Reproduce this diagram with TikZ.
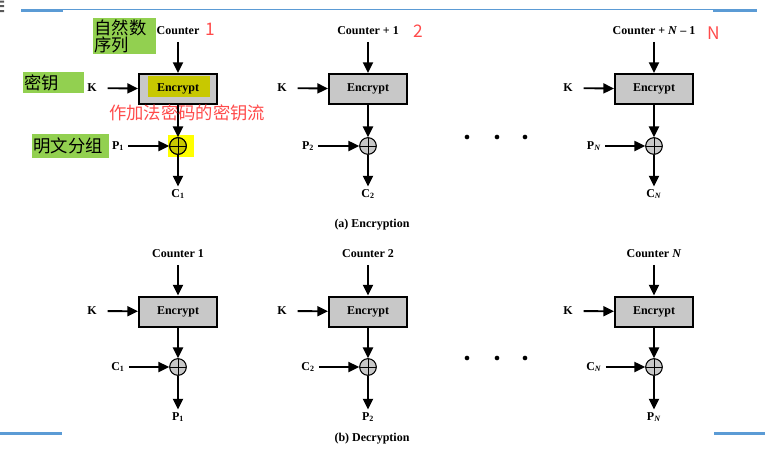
\documentclass[tikz,border=0pt]{standalone}
\usepackage{fontspec}
\setmainfont{Liberation Serif}
\newfontfamily\cjk{Noto Sans CJK SC}
\usetikzlibrary{arrows.meta,calc}
\definecolor{ppblue}{HTML}{5B9BD5}
\definecolor{mkgreen}{HTML}{92D050}
\definecolor{boxgray}{HTML}{C8C8C8}
\definecolor{mkred}{HTML}{FF4B4B}
\definecolor{hlolive}{HTML}{C8C800}
\definecolor{hlyellow}{HTML}{FFFF00}
\begin{document}
\begin{tikzpicture}[x=0.75pt,y=-0.75pt,
  lbl/.style={font=\fontsize{9}{10}\selectfont\bfseries, inner sep=2pt},
  captext/.style={font=\fontsize{9}{10}\selectfont\bfseries, inner sep=1pt},
  encbox/.style={draw, line width=1.5pt, fill=boxgray, minimum width=58.5pt, minimum height=22.5pt, inner sep=0pt, font=\fontsize{9}{10}\selectfont\bfseries},
  xor/.style={circle, draw, line width=0.8pt, fill=boxgray, minimum size=12.5pt, inner sep=0pt,
    path picture={\draw[line width=0.6pt] (path picture bounding box.north) -- (path picture bounding box.south) (path picture bounding box.west) -- (path picture bounding box.east);}},
  arr/.style={-{Triangle[length=8pt,width=7.5pt]}, line width=1.4pt},
  dotmark/.style={circle, fill, inner sep=0pt, minimum size=3.5pt},
  note/.style={fill=mkgreen, inner sep=1pt, anchor=north west, align=left, font=\cjk\fontsize{13}{12.75}\selectfont},
  rednote/.style={text=mkred, inner sep=0pt, font=\cjk\fontsize{13}{13}\selectfont}]
\useasboundingbox (0,0) rectangle (765,451);
% page decorations
\fill[gray!70!black] (0,0.5) rectangle (4,2.5) (0,5) rectangle (4,7) (0,10) rectangle (4,12);
\draw[ppblue, line width=0.75pt] (21,9.5) -- (757,9.5);
\fill[ppblue] (21,9) rectangle (63,12);
\fill[ppblue] (713,9) rectangle (757,12);
\fill[ppblue] (0,432) rectangle (62,435);
\fill[ppblue] (714,432) rectangle (765,435);
% yellow highlight behind first XOR
\fill[hlyellow] (168,135) rectangle (194,157);
% ---------------- (a) Encryption ----------------
\foreach \i/\cx/\ctr/\sub in {1/178/{Counter}/1, 2/368/{Counter + 1}/2, 3/654/{Counter + \textit{N} – 1}/{\textit{N}}}{
  \node[lbl] (ca\i) at (\cx,31) {\ctr};
  \node[encbox] (ea\i) at (\cx,89) {Encrypt};
  \node[lbl] (ka\i) at (\cx-86,88) {K};
  \node[xor] (xa\i) at (\cx,146) {};
  \node[lbl] (pa\i) at (\cx-60,146) {P\textsubscript{\sub}};
  \node[lbl] (oa\i) at (\cx,194) {C\textsubscript{\sub}};
  \draw[arr, shorten <=3pt] (ca\i) -- (ea\i);
  \draw[arr, shorten <=6pt] (ka\i) -- (ea\i);
  \draw[arr] (ea\i) -- (xa\i);
  \draw[arr, shorten <=1pt] (pa\i) -- (xa\i);
  \draw[arr] (xa\i) -- (oa\i);
}
% highlighted first encryption block
\node[encbox, path picture={\fill[hlolive] ($(path picture bounding box.center)+(-30,-13)$) rectangle ($(path picture bounding box.center)+(32,8)$);}] (ea1h) at (178,89) {Encrypt};
\node[xor, fill=hlolive] (xa1h) at (178,146) {};
\node[dotmark] (da1) at (467,137) {};
\node[dotmark] (da2) at (497,137) {};
\node[dotmark] (da3) at (525,137) {};
\node[captext] (capa) at (372,225) {(a) Encryption};
% ---------------- (b) Decryption ----------------
\foreach \i/\cx/\ctr/\sub in {1/178/{Counter 1}/1, 2/368/{Counter 2}/2, 3/654/{Counter \textit{N}}/{\textit{N}}}{
  \node[lbl] (cb\i) at (\cx,254) {\ctr};
  \node[encbox] (eb\i) at (\cx,311.5) {Encrypt};
  \node[lbl] (kb\i) at (\cx-86,311) {K};
  \node[xor] (xb\i) at (\cx,367) {};
  \node[lbl] (pb\i) at (\cx-60,367) {C\textsubscript{\sub}};
  \node[lbl] (ob\i) at (\cx,417) {P\textsubscript{\sub}};
  \draw[arr, shorten <=3pt] (cb\i) -- (eb\i);
  \draw[arr, shorten <=6pt] (kb\i) -- (eb\i);
  \draw[arr] (eb\i) -- (xb\i);
  \draw[arr, shorten <=1pt] (pb\i) -- (xb\i);
  \draw[arr] (xb\i) -- (ob\i);
}
\node[dotmark] (db1) at (467,358) {};
\node[dotmark] (db2) at (497,358) {};
\node[dotmark] (db3) at (525,358) {};
\node[captext] (capb) at (372,439) {(b) Decryption};
% ---------------- annotations ----------------
\node[note, text width=45pt, minimum height=27pt] (n1) at (93,18) {自然数\\序列};
\node[note, text width=43.5pt, minimum height=15.75pt] (n2) at (23,72) {密钥};
\node[note, text width=55.5pt, minimum height=18pt] (n3) at (32,134) {明文分组};
\node[rednote] (r1) at (210,29) {1};
\node[rednote] (r2) at (418,31) {2};
\node[rednote] (r3) at (714,33) {N};
\node[rednote] (r4) at (187,113) {作加法密码的密钥流};
\end{tikzpicture}
\end{document}
